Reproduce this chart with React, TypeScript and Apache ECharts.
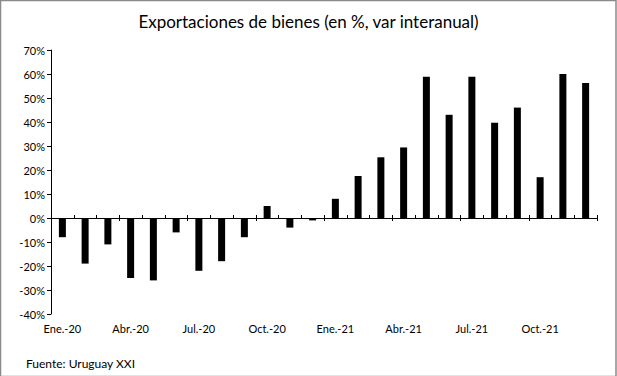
import React, { useEffect, useRef } from "react";
import * as echarts from "echarts";

const categories = [
  "Ene.-20", "Feb.-20", "Mar.-20", "Abr.-20", "May.-20", "Jun.-20",
  "Jul.-20", "Ago.-20", "Set.-20", "Oct.-20", "Nov.-20", "Dic.-20",
  "Ene.-21", "Feb.-21", "Mar.-21", "Abr.-21", "May.-21", "Jun.-21",
  "Jul.-21", "Ago.-21", "Set.-21", "Oct.-21", "Nov.-21", "Dic.-21",
];
const values = [
  -8, -19, -11, -25, -26, -6, -22, -18, -8, 5, -4, -1,
  8, 17.5, 25.3, 29.4, 58.9, 43, 58.9, 39.7, 46, 17, 60, 56.3,
];
const titleText = "Exportaciones de bienes (en %, var interanual)";
const sourceText = "Fuente: Uruguay XXI";

const FONT = "Lato, 'Open Sans', sans-serif";
const Y_MIN = -40;
const Y_MAX = 70;
const Y_STEP = 10;

export default function App() {
  const ref = useRef<HTMLDivElement>(null);
  useEffect(() => {
    if (!ref.current) return;
    const chart = echarts.init(ref.current, null, { renderer: "svg" });
    const gridPos = { left: 51, right: 20, top: 50, bottom: 62 };
    chart.setOption({
      animation: false,
      backgroundColor: "#ffffff",
      title: {
        text: titleText,
        left: "center",
        top: 8,
        textStyle: { fontFamily: FONT, fontSize: 17, fontWeight: "normal", color: "#000" },
      },
      graphic: [
        {
          type: "rect",
          shape: { x: 0.5, y: 0.5, width: 615.5, height: 376 },
          style: { fill: "none", stroke: "#8a8a8a", lineWidth: 1.5 },
        },
        {
          type: "text",
          left: 26,
          top: 357,
          style: { text: sourceText, fontFamily: FONT, fontSize: 12, fill: "#000" },
        },
      ],
      grid: [{ ...gridPos }, { ...gridPos }],
      xAxis: [
        {
          type: "category",
          data: categories,
          gridIndex: 0,
          position: "bottom",
          axisLine: { onZero: true, lineStyle: { color: "#000", width: 1 } },
          axisTick: { show: true, inside: true, length: 3, interval: 0, lineStyle: { color: "#000" } },
          axisLabel: { show: false },
        },
        {
          type: "category",
          data: categories,
          gridIndex: 1,
          position: "bottom",
          axisLine: { onZero: true, show: false },
          axisTick: { show: true, inside: false, length: 3, interval: 2, lineStyle: { color: "#000" } },
          axisLabel: { show: false },
        },
        {
          type: "category",
          data: categories,
          gridIndex: 0,
          position: "bottom",
          axisLine: { onZero: false, show: false },
          axisTick: { show: false },
          axisLabel: {
            show: true,
            interval: 2,
            margin: 9,
            fontFamily: FONT,
            fontSize: 11,
            color: "#000",
          },
        },
      ],
      yAxis: [
        {
          type: "value",
          gridIndex: 0,
          min: Y_MIN,
          max: Y_MAX,
          interval: Y_STEP,
          axisLine: { show: true, lineStyle: { color: "#000" } },
          axisTick: { show: true, length: 4, lineStyle: { color: "#000" } },
          splitLine: { show: false },
          axisLabel: {
            formatter: (v: number) => `${v}%`,
            fontFamily: FONT,
            fontSize: 11,
            color: "#000",
            margin: 6,
          },
        },
        {
          type: "value",
          gridIndex: 1,
          min: Y_MIN,
          max: Y_MAX,
          interval: Y_STEP,
          axisLine: { show: false },
          axisTick: { show: false },
          axisLabel: { show: false },
          splitLine: { show: false },
        },
      ],
      series: [
        {
          type: "bar",
          data: values,
          xAxisIndex: 0,
          yAxisIndex: 0,
          barWidth: 7,
          itemStyle: { color: "#000" },
        },
      ],
    });
    return () => chart.dispose();
  }, []);
  return <div ref={ref} style={{ width: 617, height: 376, position: "absolute", left: 0, top: 0 }} />;
}
